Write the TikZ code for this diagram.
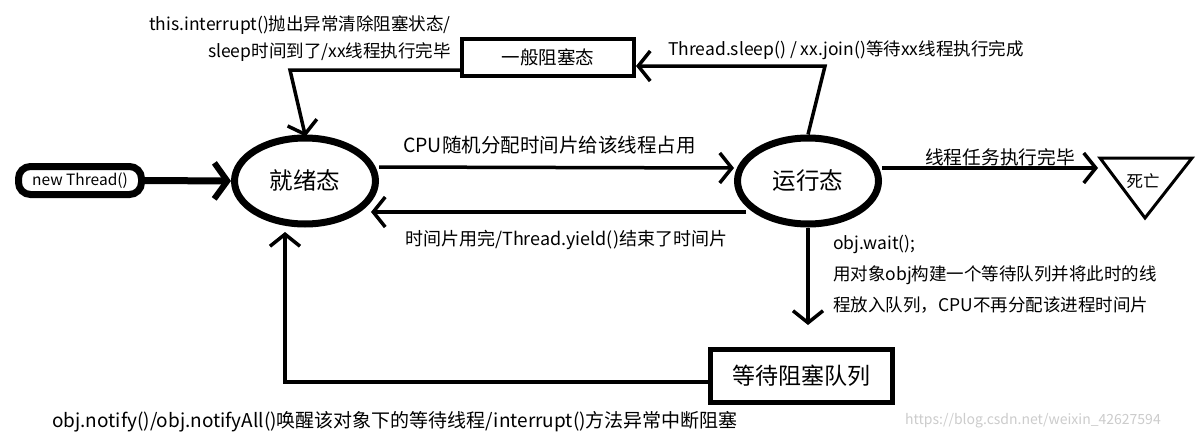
\documentclass[tikz,border=0pt]{standalone}
\usepackage{fontspec}
\setmainfont{Noto Sans CJK SC}
\usetikzlibrary{arrows.meta,shapes.geometric}
\newcommand{\fs}[1]{\fontsize{#1}{#1}\selectfont}
\begin{document}
\begin{tikzpicture}[x=1pt,y=-1pt,
  conn/.style={line width=3.5pt,-{Straight Barb[length=12pt,width=30pt,line width=3.5pt]}},
  state/.style={ellipse,draw,line width=7pt,minimum width=141pt,minimum height=86pt,inner sep=0pt,font=\fs{23.5}},
  box/.style={draw,rectangle,inner sep=0pt},
  lbl/.style={inner sep=0pt},
]
\useasboundingbox[fill=white] (0,0) rectangle (1204,439);

% states
\node[state] (ready) at (305,181) {就绪态};
\node[state] (run) at (808,181) {运行态};
\node[box,line width=7pt,rounded corners=12pt,minimum width=123pt,minimum height=28pt,font=\fs{15.5}] (newt) at (80,180.5) {new Thread()};
\node[box,line width=4pt,minimum width=172pt,minimum height=37pt,font=\fs{18.5}] (blk) at (548,57.5) {一般阻塞态};
\node[box,line width=5pt,minimum width=182pt,minimum height=53pt,font=\fs{23}] (wq) at (801.5,376) {等待阻塞队列};
\node[font=\fs{16.5},inner sep=0pt] (dead) at (1143,181) {死亡};
\draw[line width=3pt,line join=miter] (1100,158) -- (1192,158) -- (1145,218) -- cycle;

% helper coordinates
\coordinate (c1) at (290,70);
\coordinate (c2) at (825,66);
\coordinate (c3) at (808,325);
\coordinate (c4) at (285,382);
\coordinate (c5) at (285,232);
\coordinate (deadin) at (1098,168);

% connectors
\draw[line width=7pt,-{Straight Barb[length=13pt,width=36pt,line width=6pt]}] (newt.east) -- (ready.west);
\draw[conn] ([yshift=14pt]ready.east) -- ([yshift=13pt]run.west);
\draw[conn] ([yshift=-31pt]run.west) ++(12,0) -- ++(-375,0);
\draw[conn] ([yshift=13pt]run.east) -- (deadin);
\draw[conn] (run.north) -- (c2) -- (c2 -| blk.east);
\draw[conn,shorten >=-2pt] (blk.west |- c1) -- (c1) -- (ready.north);
\draw[conn] (run.south) -- (c3);
\draw[conn] (wq.west |- c4) -- (c4) -- (c5);

% labels
\node[lbl,align=right,anchor=east,font=\fontsize{17.5}{27}\selectfont] (l1) at (451,39) {this.interrupt()抛出异常清除阻塞状态/\\sleep时间到了/xx线程执行完毕};
\node[lbl,anchor=west,font=\fs{17.5}] (l2) at (668,50) {Thread.sleep() / xx.join()等待xx线程执行完成};
\node[lbl,anchor=west,font=\fs{19.5}] (l3) at (403,145) {CPU随机分配时间片给该线程占用};
\node[lbl,anchor=west,font=\fs{18}] (l4) at (405,240) {时间片用完/Thread.yield()结束了时间片};
\node[lbl,anchor=west,font=\fs{18.7}] (l5) at (925,157) {线程任务执行完毕};
\node[lbl,anchor=north west,align=left,font=\fontsize{17.5}{31}\selectfont] (l6) at (833,235) {obj.wait();\\用对象obj构建一个等待队列并将此时的线\\程放入队列，CPU不再分配该进程时间片};
\node[lbl,anchor=west,font=\fs{19}] (l7) at (52,422) {obj.notify()/obj.notifyAll()唤醒该对象下的等待线程/interrupt()方法异常中断阻塞};
\node[lbl,anchor=west,text=black!20,font=\fs{14}] (wm) at (905,421) {https://blog.csdn.net/weixin\_42627594};
\end{tikzpicture}
\end{document}
